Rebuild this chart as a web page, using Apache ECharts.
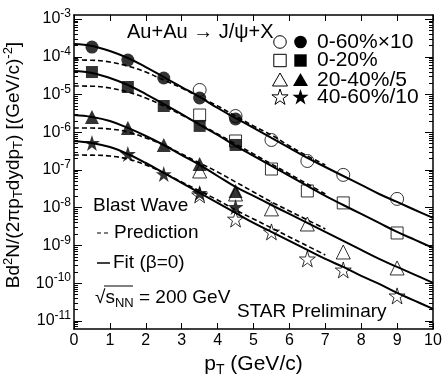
<!DOCTYPE html>
<html>
<head>
<meta charset="utf-8">
<script src="https://cdn.jsdelivr.net/npm/echarts@6/dist/echarts.min.js"></script>
<style>html,body{margin:0;padding:0;background:#fff}#c{width:442px;height:376px}</style>
</head>
<body>
<div id="c"></div>
<script>
// ---------------- data ----------------
const centralities = ['0-60%×10', '0-20%', '20-40%/5', '40-60%/10'];

// Blast-wave fit curves (solid), sampled at fitPt
const fitPt = [0,0.5,1,1.5,2,2.5,3,3.5,4,4.5,5,5.5,6,6.5,7,7.5,8,8.5,9,9.5,10];
const fit_0_60  = [2.18e-4,1.93e-4,1.42e-4,9.27e-5,5.35e-5,2.91e-5,1.58e-5,8.59e-6,4.39e-6,2.38e-6,1.30e-6,7.05e-7,3.83e-7,2.08e-7,1.20e-7,6.93e-8,4.01e-8,2.31e-8,1.42e-8,8.71e-9,5.35e-9];
const fit_0_20  = [4.20e-5,3.72e-5,2.74e-5,1.79e-5,1.03e-5,5.60e-6,3.04e-6,1.56e-6,8.45e-7,4.33e-7,2.35e-7,1.28e-7,6.93e-8,3.77e-8,2.05e-8,1.18e-8,6.82e-9,3.94e-9,2.28e-9,1.40e-9,8.59e-10];
const fit_20_40 = [2.86e-6,2.54e-6,1.99e-6,1.30e-6,7.96e-7,4.59e-7,2.49e-7,1.36e-7,6.93e-8,3.55e-8,2.05e-8,1.18e-8,6.82e-9,3.94e-9,2.28e-9,1.32e-9,7.60e-10,4.39e-10,2.69e-10,1.66e-10,1.02e-10];
const fit_40_60 = [5.86e-7,5.19e-7,4.06e-7,2.65e-7,1.53e-7,8.34e-8,4.53e-8,2.46e-8,1.34e-8,7.26e-9,3.94e-9,2.28e-9,1.32e-9,7.60e-10,4.39e-10,2.69e-10,1.56e-10,9.55e-11,5.52e-11,3.39e-11,2.08e-11];

// Blast-wave predictions (dashed), sampled at predPt
const predPt = [0,0.5,1,1.5,2,2.5,3,3.5,4,4.5,5,5.5,6,6.5,7];
const pred_0_60  = [8.20e-5,8.10e-5,7.26e-5,5.69e-5,3.94e-5,2.42e-5,1.49e-5,8.59e-6,4.95e-6,2.69e-6,1.47e-6,8.45e-7,4.33e-7,2.35e-7,1.36e-7];
const pred_0_20  = [1.68e-5,1.66e-5,1.49e-5,1.16e-5,8.07e-6,4.95e-6,2.86e-6,1.66e-6,8.99e-7,4.89e-7,2.65e-7,1.44e-7,7.83e-8,4.26e-8,2.31e-8];
const pred_20_40 = [1.30e-6,1.29e-6,1.22e-6,1.02e-6,7.05e-7,4.59e-7,2.65e-7,1.53e-7,8.85e-8,4.81e-8,2.61e-8,1.42e-8,8.20e-9,4.74e-9,2.74e-9];
const pred_40_60 = [2.49e-7,2.47e-7,2.35e-7,1.95e-7,1.36e-7,8.34e-8,4.81e-8,2.78e-8,1.60e-8,8.71e-9,5.04e-9,2.91e-9,1.68e-9,9.70e-10,5.60e-10];

// Data points: filled markers (low pT) and open markers (high pT)
const ptLow  = [0.5,1.5,2.5,3.5,4.5];
const ptHigh = [3.5,4.5,5.5,6.5,7.5,9.0];
const filled_0_60  = [1.81e-4,8.2e-5,2.74e-5,8.07e-6,2.24e-6];
const open_0_60    = [1.32e-5,2.69e-6,6.23e-7,1.73e-7,7.4e-8,1.71e-8];
const filled_0_20  = [3.94e-5,1.58e-5,4.96e-6,1.47e-6,4.6e-7];
const open_0_20    = [2.86e-6,5.86e-7,1.06e-7,2.78e-8,1.34e-8,2.14e-9];
const filled_20_40 = [2.54e-6,1.30e-6,4.6e-7,1.44e-7,2.78e-8];
const open_20_40   = [9.4e-8,2.31e-8,9.3e-9,3.7e-9,6.7e-10,2.53e-10];
const filled_40_60 = [5.2e-7,2.65e-7,7.8e-8,2.46e-8,1.05e-8];
const open_40_60   = [2.18e-8,5.0e-9,2.28e-9,4.4e-10,2.24e-10,4.6e-11];

// Axis ticks
const yTickExp = [-11,-10,-9,-8,-7,-6,-5,-4,-3];
const xTicks = [0,1,2,3,4,5,6,7,8,9,10];

// ---------------- layout / style ----------------
const FONT = '"Liberation Sans", Arial, Helvetica, sans-serif';
const Y_MIN = 6.1e-12, Y_MAX = 1.28e-3;

const majorY = yTickExp.map(e => Math.pow(10, e));
const minorY = [];
for (let e = -12; e <= -3; e++) for (let k = 2; k <= 9; k++) {
  const v = k * Math.pow(10, e);
  if (v > Y_MIN && v < Y_MAX) minorY.push(v);
}

function starPts(cx, cy, R, r) {
  const pts = [];
  for (let i = 0; i < 10; i++) {
    const a = (-90 + 36 * i) * Math.PI / 180;
    const rr = i % 2 === 0 ? R : r;
    pts.push([cx + rr * Math.cos(a), cy + rr * Math.sin(a)]);
  }
  return pts;
}
const STAR_PATH = 'path://' + starPts(0, 0, 10, 3.82).map((p, i) => (i ? 'L' : 'M') + p[0].toFixed(3) + ',' + p[1].toFixed(3)).join(' ') + ' Z';

const shapes = [
  {symbol: 'circle',   size: 13},
  {symbol: 'rect',     size: 12},
  {symbol: 'triangle', size: 14},
  {symbol: STAR_PATH,  size: 16}
];

const fits = [fit_0_60, fit_0_20, fit_20_40, fit_40_60];
const preds = [pred_0_60, pred_0_20, pred_20_40, pred_40_60];
const filleds = [filled_0_60, filled_0_20, filled_20_40, filled_40_60];
const opens = [open_0_60, open_0_20, open_20_40, open_40_60];

const series = [];
fits.forEach((arr, g) => {
  series.push({
    type: 'line', name: centralities[g] + ' fit', xAxisIndex: 0, yAxisIndex: 0,
    data: fitPt.map((x, i) => [x, arr[i]]), smooth: 0.4, symbol: 'none', silent: true, z: 2,
    lineStyle: {color: '#000', width: 2}
  });
  series.push({
    type: 'line', name: centralities[g] + ' prediction', xAxisIndex: 0, yAxisIndex: 0,
    data: predPt.map((x, i) => [x, preds[g][i]]), smooth: 0.4, symbol: 'none', silent: true, z: 2,
    lineStyle: {color: '#000', width: 1.6, type: [5, 3]}
  });
});
opens.forEach((arr, g) => {
  series.push({
    type: 'scatter', name: centralities[g] + ' (open)', xAxisIndex: 0, yAxisIndex: 0,
    symbol: shapes[g].symbol, symbolSize: shapes[g].size, silent: true, z: 3,
    data: ptHigh.map((x, i) => [x, arr[i]]),
    itemStyle: {color: 'rgba(0,0,0,0)', borderColor: '#000', borderWidth: 1}
  });
});
filleds.forEach((arr, g) => {
  series.push({
    type: 'scatter', name: centralities[g], xAxisIndex: 0, yAxisIndex: 0,
    symbol: shapes[g].symbol, symbolSize: shapes[g].size, silent: true, z: 4,
    data: ptLow.map((x, i) => [x, arr[i]]),
    itemStyle: {color: '#000'}
  });
});

// ---------------- axes ----------------
const axisLine = {show: true, lineStyle: {color: '#000', width: 1.5}};
function yAx(pos, ticks, len, main) {
  return {
    type: 'log', logBase: 10, min: Y_MIN, max: Y_MAX, position: pos, offset: 0,
    gridIndex: 0,
    axisLine: main ? axisLine : {show: false},
    splitLine: {show: false},
    axisTick: {show: true, inside: true, length: len, customValues: ticks, lineStyle: {color: '#000', width: 1}},
    axisLabel: (main && pos === 'left') ? {
      show: true, customValues: majorY, margin: 3, color: '#000',
      formatter: v => '{b|10}{s|' + Math.round(Math.log10(v)) + '}',
      rich: {
        b: {fontSize: 16, fontFamily: FONT, color: '#000'},
        s: {fontSize: 12, fontFamily: FONT, color: '#000', padding: [0, 0, 10, 0]}
      }
    } : {show: false}
  };
}
const yAxes = [yAx('left', majorY, 8, true), yAx('left', minorY, 4, false), yAx('right', majorY, 8, true), yAx('right', minorY, 4, false)];
yAxes[0].name = 'Bd{sup|2}N/(2πp{sub|T}dydp{sub|T}) [(GeV/c){sup|-2}]';
yAxes[0].nameLocation = 'middle';
yAxes[0].nameGap = 43;
yAxes[0].nameRotate = 90;
yAxes[0].nameTextStyle = {
  fontSize: 19, fontFamily: FONT, color: '#000', padding: [0, 0, 0, 14],
  rich: {
    sup: {fontSize: 13, fontFamily: FONT, color: '#000', padding: [0, 0, 10, 0]},
    sub: {fontSize: 13, fontFamily: FONT, color: '#000', padding: [10, 0, 0, 0]}
  }
};

const xAxes = [
  {
    type: 'value', min: 0, max: 10, interval: 1, position: 'bottom', gridIndex: 0,
    axisLine, splitLine: {show: false},
    axisTick: {show: true, inside: true, length: 6, lineStyle: {color: '#000', width: 1}},
    axisLabel: {show: true, margin: 4, fontSize: 16, fontFamily: FONT, color: '#000',
      customValues: xTicks, formatter: v => String(v)},
    name: 'p{sub|T} (GeV/c)', nameLocation: 'middle', nameGap: 20,
    nameTextStyle: {fontSize: 21, fontFamily: FONT, color: '#000',
      rich: {sub: {fontSize: 14, fontFamily: FONT, color: '#000', padding: [11, 0, 0, 0]}}}
  },
  {
    type: 'value', min: 0, max: 10, interval: 1, position: 'top', gridIndex: 0,
    axisLine, splitLine: {show: false},
    axisTick: {show: true, inside: true, length: 6, lineStyle: {color: '#000', width: 1}},
    axisLabel: {show: false}
  }
];

// ---------------- annotations (legend + texts) ----------------
const LEG = {xOpen: 280, xFill: 300.5, xText: 317, rows: [42, 60.5, 80, 97]};
const txt = (x, y, text, size, extra) => Object.assign({
  type: 'text', x, y, silent: true,
  style: Object.assign({text, fontSize: size, fontFamily: FONT, fill: '#000', align: 'left', verticalAlign: 'middle'}, extra || {})
});
function legendSymbol(g, cx, cy, filled) {
  const style = filled ? {fill: '#000'} : {fill: 'none', stroke: '#000', lineWidth: 1};
  if (g === 0) return {type: 'circle', shape: {cx, cy, r: 6.3}, style, silent: true};
  if (g === 1) return {type: 'rect', shape: {x: cx - 6.2, y: cy - 6.2, width: 12.4, height: 12.4}, style, silent: true};
  if (g === 2) return {type: 'polygon', shape: {points: [[cx, cy - 7], [cx + 7.5, cy + 6], [cx - 7.5, cy + 6]]}, style, silent: true};
  return {type: 'polygon', shape: {points: starPts(cx, cy + 0.5, 8.5, 3.3)}, style, silent: true};
}
const graphics = [];
centralities.forEach((label, g) => {
  const y = LEG.rows[g];
  graphics.push(legendSymbol(g, LEG.xOpen, y, false));
  graphics.push(legendSymbol(g, LEG.xFill, y, true));
  graphics.push(txt(LEG.xText, y, label, 21));
});
graphics.push(txt(127, 32, 'Au+Au → J/ψ+X', 20));
graphics.push(txt(93, 206, 'Blast Wave', 19));
graphics.push({type: 'line', shape: {x1: 97, y1: 233, x2: 111, y2: 233}, style: {stroke: '#000', lineWidth: 1.2, lineDash: [4, 3]}, silent: true});
graphics.push(txt(114, 233, 'Prediction', 19));
graphics.push({type: 'line', shape: {x1: 97, y1: 263, x2: 110, y2: 263}, style: {stroke: '#000', lineWidth: 1.5}, silent: true});
graphics.push(txt(113, 263, 'Fit (β=0)', 19));
graphics.push(txt(95, 298, '√s{sub|NN} = 200 GeV', 19, {
  rich: {sub: {fontSize: 13, fontFamily: FONT, fill: '#000', padding: [10, 0, 0, 0]}}
}));
graphics.push({type: 'line', shape: {x1: 104, y1: 286, x2: 133, y2: 286}, style: {stroke: '#000', lineWidth: 1}, silent: true});
graphics.push(txt(237, 312, 'STAR Preliminary', 19));

const chart = echarts.init(document.getElementById('c'), null, {renderer: 'canvas', width: 442, height: 376});
chart.setOption({
  animation: false,
  backgroundColor: '#fff',
  grid: {left: 74, right: 9, top: 15, bottom: 47, containLabel: false, outerBoundsMode: 'none'},
  xAxis: xAxes,
  yAxis: yAxes,
  series,
  graphic: graphics
});
</script>
</body>
</html>
